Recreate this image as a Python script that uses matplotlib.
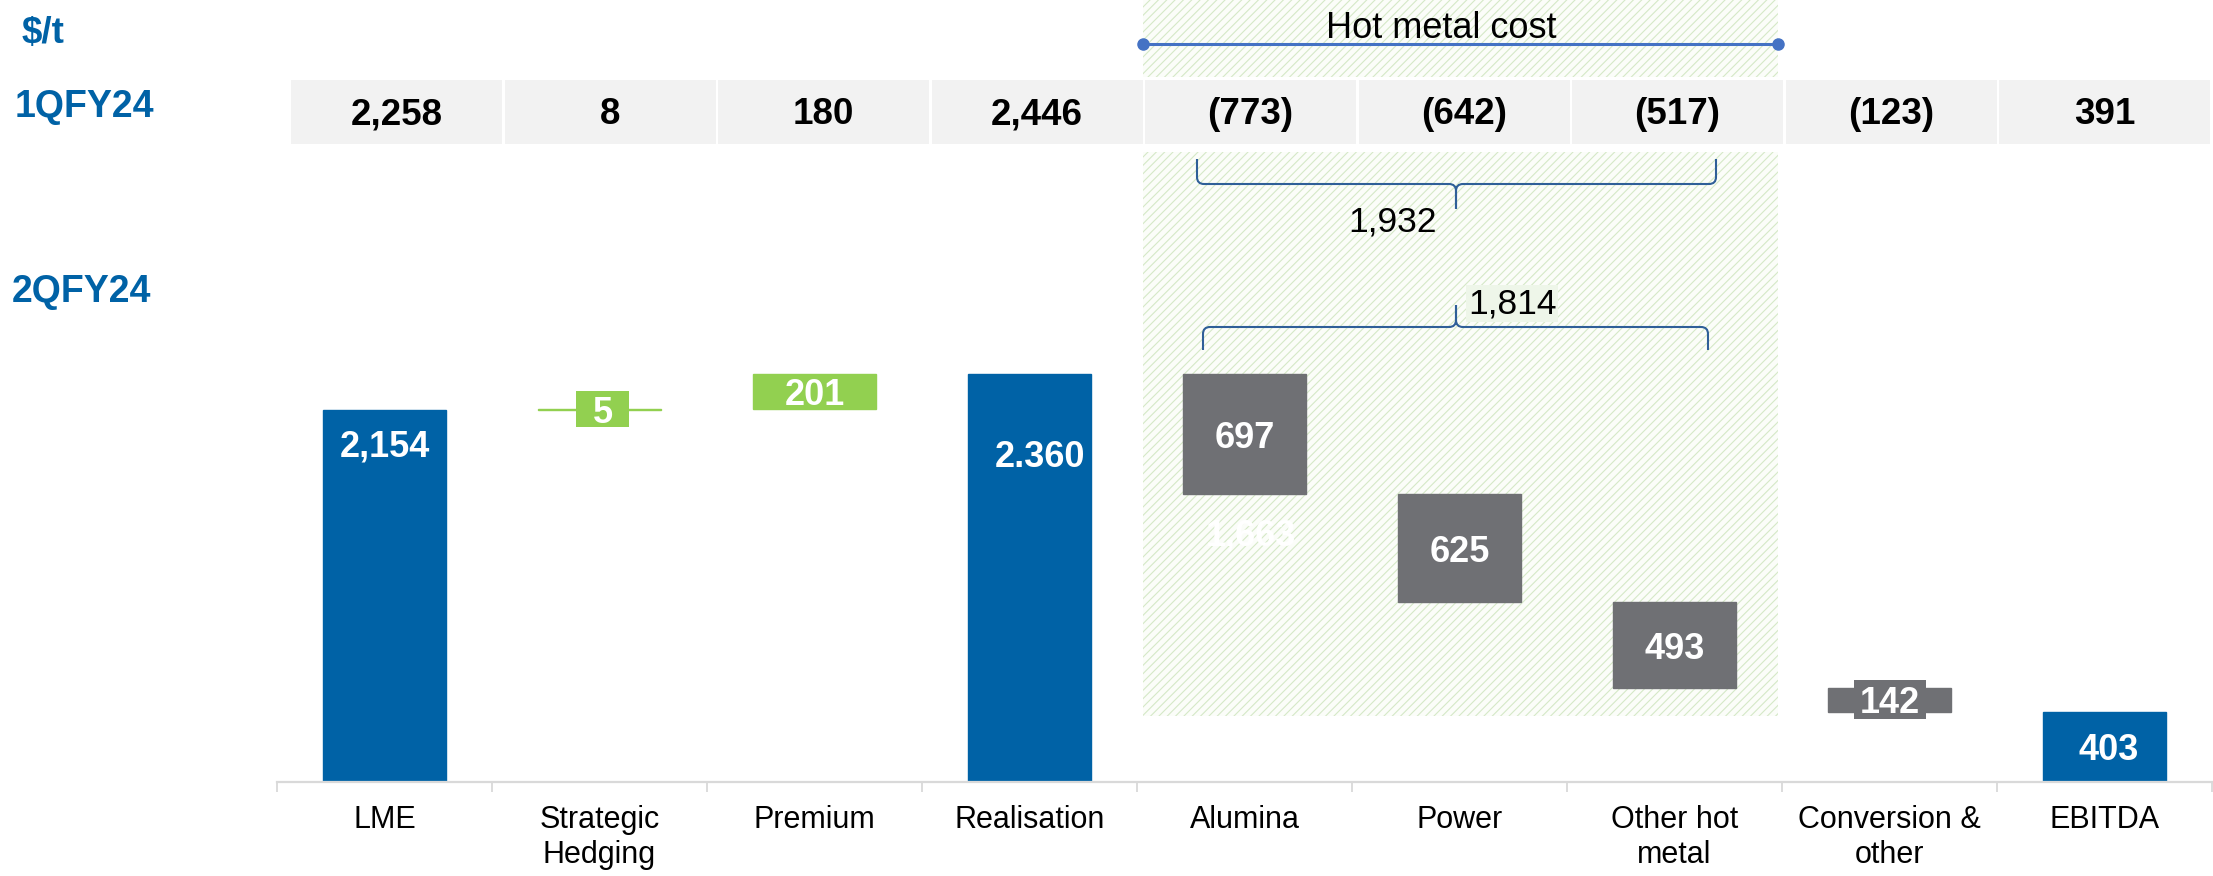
import matplotlib
matplotlib.use("Agg")
import matplotlib.pyplot as plt
from matplotlib.patches import Rectangle, PathPatch
from matplotlib.path import Path

plt.rcParams["font.family"] = ["Liberation Sans", "DejaVu Sans"]
plt.rcParams["hatch.linewidth"] = 0.8

# ---- data -------------------------------------------------------------
categories = ["LME", "Strategic\nHedging", "Premium", "Realisation", "Alumina",
              "Power", "Other hot\nmetal", "Conversion &\nother", "EBITDA"]
step_kind = ["total", "up", "up", "total", "down", "down", "down", "down", "total"]
q2_values = [2154, 5, 201, 2360, 697, 625, 493, 142, 403]
q2_labels = ["2,154", "5", "201", "2.360", "697", "625", "493", "142", "403"]
q1_labels = ["2,258", "8", "180", "2,446", "(773)", "(642)", "(517)", "(123)", "391"]
row_labels = ["$/t", "1QFY24", "2QFY24"]
hot_metal_title = "Hot metal cost"
hot_metal_q1 = "1,932"
hot_metal_q2 = "1,814"

# ---- colours ----------------------------------------------------------
BLUE = "#0062A6"
GREEN = "#92D050"
GREY = "#6F7074"
AXIS_GREY = "#D9D9D9"
CELL_GREY = "#F2F2F2"
BRACE_BLUE = "#2F5F98"
LINE_BLUE = "#4472C4"

# ---- layout (pixels) --------------------------------------------------
W, H, DPI = 2213, 876, 100
AX_LEFT, AX_RIGHT, AX_ZERO = 277, 2212, 781.7
PX_PER_UNIT = 0.1727
CAT_PX = (AX_RIGHT - AX_LEFT) / len(categories)
BAR_W = 0.572

fig = plt.figure(figsize=(W / DPI, H / DPI), dpi=DPI)
fig.patch.set_facecolor("white")

# background layer: x in category units, y in pixel rows from the top
back = fig.add_axes([0, 0, 1, 1], zorder=0)
bx0 = -0.5 - AX_LEFT / CAT_PX
back.set_xlim(bx0, bx0 + W / CAT_PX)
back.set_ylim(H, 0)
back.axis("off")

def px_to_cat(px):
    return (px - AX_LEFT) / CAT_PX - 0.5

# hatched band behind the hot metal cost items
hx0, hx1 = px_to_cat(1143), px_to_cat(1778)
for y0, y1 in [(0, 77), (152, 716)]:
    back.add_patch(Rectangle((hx0, y0), hx1 - hx0, y1 - y0, facecolor="#FBFDF9",
                             edgecolor="#D5E9C7", hatch="////", linewidth=0))

# 1QFY24 table row
cell_x0 = px_to_cat(291)
cell_pitch = 213.5 / CAT_PX
cell_w = 211 / CAT_PX
for i, lab in enumerate(q1_labels):
    x = cell_x0 + i * cell_pitch
    back.add_patch(Rectangle((x, 80), cell_w, 63.5, facecolor=CELL_GREY, edgecolor="none"))
    back.text(x + cell_w / 2, 111, lab, ha="center", va="center_baseline",
              fontsize=26.5, fontweight="bold", color="black")

# row labels on the left
back.text(px_to_cat(22), 30, row_labels[0], ha="left", va="center_baseline",
          fontsize=26.5, fontweight="bold", color=BLUE)
back.text(px_to_cat(15), 103, row_labels[1], ha="left", va="center_baseline",
          fontsize=27, fontweight="bold", color=BLUE)
back.text(px_to_cat(12), 288, row_labels[2], ha="left", va="center_baseline",
          fontsize=27, fontweight="bold", color=BLUE)

# hot metal cost span marker
back.plot([hx0, hx1], [44, 44], color=LINE_BLUE, lw=2.2, marker="o",
          markersize=8, solid_capstyle="butt")
back.text(px_to_cat(1441), 24, hot_metal_title, ha="center", va="center_baseline",
          fontsize=26, color="black")


def brace(ax, x0, x1, xm, y_h, tip_dy, cusp_dy, r_px=7):
    rx = r_px / CAT_PX
    st = 1 if tip_dy > 0 else -1
    sc = 1 if cusp_dy > 0 else -1
    verts, codes = [], []
    for xa, sx in [(x0, 1), (x1, -1)]:
        verts += [(xa, y_h + tip_dy), (xa, y_h + st * r_px), (xa, y_h), (xa + sx * rx, y_h),
                  (xm - sx * rx, y_h), (xm, y_h), (xm, y_h + sc * r_px), (xm, y_h + cusp_dy)]
        codes += [Path.MOVETO, Path.LINETO, Path.CURVE3, Path.CURVE3,
                  Path.LINETO, Path.CURVE3, Path.CURVE3, Path.LINETO]
    ax.add_patch(PathPatch(Path(verts, codes), facecolor="none",
                           edgecolor=BRACE_BLUE, lw=1.5))


xm = px_to_cat(1456)
brace(back, px_to_cat(1197), px_to_cat(1716), xm, 184, -25, 25)
back.text(px_to_cat(1437), 218, hot_metal_q1, ha="right", va="center_baseline",
          fontsize=25.5, color="black")
brace(back, px_to_cat(1203), px_to_cat(1708), xm, 327, 23, -22)
back.text(px_to_cat(1468), 300, hot_metal_q2, ha="left", va="center_baseline",
          fontsize=25.5, color="black",
          bbox=dict(boxstyle="square,pad=0.05", facecolor="#EEF6E9", edgecolor="none"))

# ---- waterfall --------------------------------------------------------
ax = fig.add_axes([AX_LEFT / W, (H - AX_ZERO) / H, (AX_RIGHT - AX_LEFT) / W, AX_ZERO / H],
                  zorder=1)
ax.set_facecolor("none")
ax.set_xlim(-0.5, len(categories) - 0.5)
ax.set_ylim(0, AX_ZERO / PX_PER_UNIT)

bottoms, colors = [], []
running = 0
for v, kind in zip(q2_values, step_kind):
    if kind == "total":
        bottoms.append(0)
        running = v
        colors.append(BLUE)
    elif kind == "up":
        bottoms.append(running)
        running += v
        colors.append(GREEN)
    else:
        running -= v
        bottoms.append(running)
        colors.append(GREY)

xs = list(range(len(categories)))
ax.bar(xs, q2_values, bottom=bottoms, width=BAR_W, color=colors,
       edgecolor=colors, linewidth=1.0)

def px(n):
    return n / PX_PER_UNIT

label_kw = dict(ha="center", va="center_baseline", fontsize=26,
                fontweight="bold", color="white")
for i, (v, b, lab, kind) in enumerate(zip(q2_values, bottoms, q2_labels, step_kind)):
    mid = b + v / 2
    if i == 0:
        ax.text(i, v - px(33), lab, **label_kw)
    elif i == 3:
        ax.text(i + 0.047, v - px(79), lab, **label_kw)
    elif i == len(categories) - 1:
        ax.text(i + 0.02, v / 2, lab, **label_kw)
    elif i == 1:
        # thin step: label sits in its own box
        bw = 53 / CAT_PX
        ax.add_patch(Rectangle((i - bw / 2 + 0.015, mid - px(18)), bw, px(36),
                               facecolor=GREEN, edgecolor="none", zorder=3))
        ax.text(i + 0.015, mid, lab, zorder=4, **label_kw)
    elif i == 7:
        bw = 72 / CAT_PX
        ax.add_patch(Rectangle((i - bw / 2, mid - px(19.5)), bw, px(39),
                               facecolor=GREY, edgecolor="none", zorder=3))
        ax.text(i, mid, lab, zorder=4, **label_kw)
    else:
        ax.text(i, mid, lab, **label_kw)

# residual after alumina, in white
ax.text(4 + 0.03, bottoms[4] - px(38), f"{bottoms[4]:,}", ha="center",
        va="center_baseline", fontsize=26, fontweight="bold", color="white")

# axis styling
for side in ["left", "right", "top"]:
    ax.spines[side].set_visible(False)
ax.spines["bottom"].set_color(AXIS_GREY)
ax.spines["bottom"].set_linewidth(1.6)
ax.set_yticks([])
ax.set_xticks(xs)
ax.set_xticklabels(categories, fontsize=22, color="black", linespacing=1.2)
ax.tick_params(axis="x", which="major", length=0, pad=17)
ax.set_xticks([x - 0.5 for x in range(len(categories) + 1)], minor=True)
ax.tick_params(axis="x", which="minor", length=7, width=1.3, color=AXIS_GREY, direction="out")

fig.savefig("out.png", dpi=DPI, facecolor="white")
